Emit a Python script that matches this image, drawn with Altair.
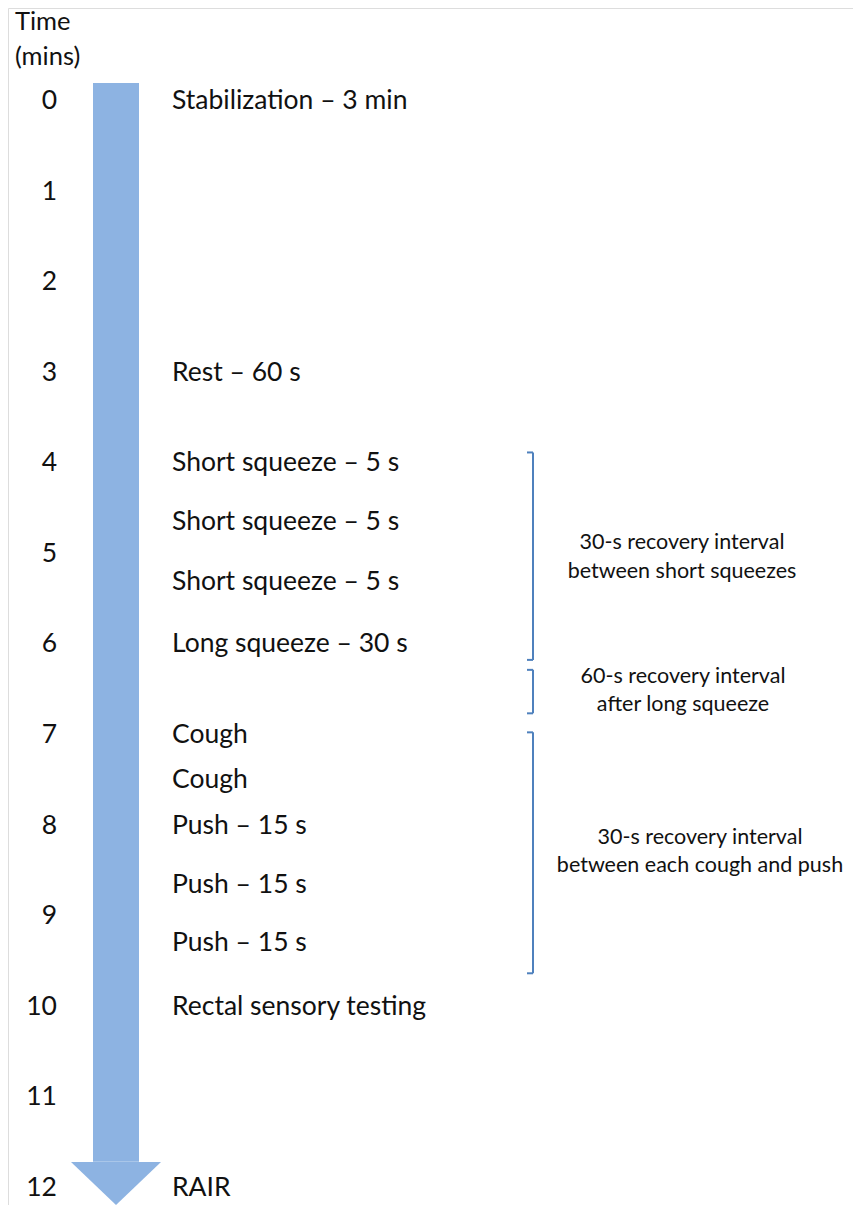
import altair as alt
import pandas as pd

# ---- data ----
minutes = list(range(13))
event_times = [0, 3, 4, 4.65, 5.31, 6, 7, 7.5, 8, 8.66, 9.3, 10, 12]
event_labels = [
    "Stabilization – 3 min", "Rest – 60 s", "Short squeeze – 5 s", "Short squeeze – 5 s",
    "Short squeeze – 5 s", "Long squeeze – 30 s", "Cough", "Cough", "Push – 15 s",
    "Push – 15 s", "Push – 15 s", "Rectal sensory testing", "RAIR",
]
bracket_start = [3.88, 6.28, 6.97]
bracket_end = [6.17, 6.76, 9.63]
note_line1 = ["30-s recovery interval", "60-s recovery interval", "30-s recovery interval"]
note_line2 = ["between short squeezes", "after long squeeze", "between each cough and push"]
note_t1 = [4.88, 6.36, 8.14]
note_t2 = [5.2, 6.67, 8.45]
note_x = [674, 675, 692]
arrow_top = -0.2
arrow_head_start = 11.71
arrow_head_mid = 11.95

FONT = "Lato"
ARROW = "#8DB3E2"
BRACKET = "#4F81BD"
MAIN = 26.5
SMALL = 21.5

yscale = alt.Scale(domain=[-1.0267, 12.188], reverse=True, nice=False, zero=False)
Y = lambda f: alt.Y(f, type="quantitative", scale=yscale, axis=None)

ticks = pd.DataFrame({"t": minutes, "lab": [str(m) for m in minutes]})
events = pd.DataFrame({"t": event_times, "lab": event_labels})
brackets = pd.DataFrame({"s": bracket_start, "e": bracket_end})
notes = pd.DataFrame({"t1": note_t1, "t2": note_t2, "l1": note_line1, "l2": note_line2, "x": note_x})
shaft = pd.DataFrame({"a": [arrow_top], "b": [arrow_head_start]})
head = pd.DataFrame({"t": [arrow_head_mid]})
header = pd.DataFrame({"lab": ["Time", "(mins)"], "y": [14, 49]})

shaft_l = alt.Chart(shaft).mark_rect(color=ARROW).encode(
    x=alt.value(85), x2=alt.value(131), y=Y("a"), y2="b")
head_l = alt.Chart(head).mark_point(
    shape="M-1,-0.478L1,-0.478L0,0.478Z", filled=True, color=ARROW, opacity=1, size=8100, strokeWidth=0
).encode(x=alt.value(108), y=Y("t"))

tick_l = alt.Chart(ticks).mark_text(font=FONT, fontSize=MAIN, align="right", baseline="middle", color="#111").encode(
    x=alt.value(49), y=Y("t"), text="lab")
head_txt = alt.Chart(header).mark_text(font=FONT, fontSize=MAIN - 1, align="left", baseline="middle", color="#111").encode(
    x=alt.value(7), y=alt.Y("y:Q", scale=None), text="lab")
event_l = alt.Chart(events).mark_text(font=FONT, fontSize=MAIN, align="left", baseline="middle", color="#111").encode(
    x=alt.value(164), y=Y("t"), text="lab")

br_v = alt.Chart(brackets).mark_rule(color=BRACKET, strokeWidth=2).encode(
    x=alt.value(525), y=Y("s"), y2="e")
br_top = alt.Chart(brackets).mark_rule(color=BRACKET, strokeWidth=2).encode(
    x=alt.value(519), x2=alt.value(525), y=Y("s"))
br_bot = alt.Chart(brackets).mark_rule(color=BRACKET, strokeWidth=2).encode(
    x=alt.value(519), x2=alt.value(525), y=Y("e"))

n1 = alt.Chart(notes).mark_text(font=FONT, fontSize=SMALL, align="center", baseline="middle", color="#111").encode(
    x=alt.X("x:Q", scale=None), y=Y("t1"), text="l1")
n2 = alt.Chart(notes).mark_text(font=FONT, fontSize=SMALL, align="center", baseline="middle", color="#111").encode(
    x=alt.X("x:Q", scale=None), y=Y("t2"), text="l2")

chart = alt.layer(shaft_l, head_l, tick_l, head_txt, event_l, br_v, br_top, br_bot, n1, n2).properties(
    width=845, height=1197, padding=0, autosize=alt.AutoSizeParams(type="none")
).configure_view(stroke=None).configure(background="white")

chart.save("out.html", embed_options={"renderer": "svg", "actions": False})
